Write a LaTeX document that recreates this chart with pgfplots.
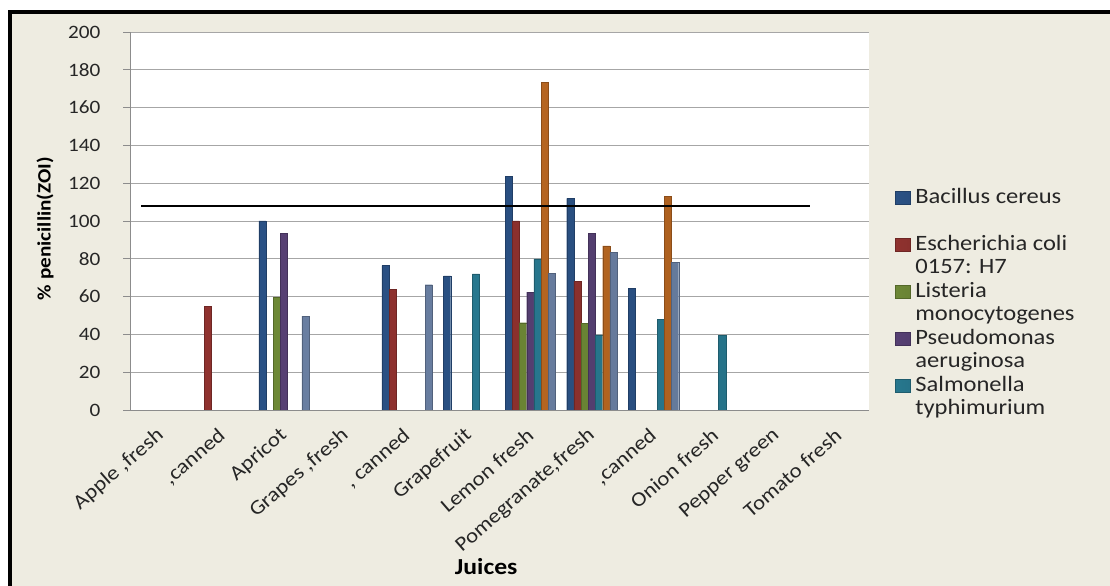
\documentclass[border=0pt]{standalone}
\usepackage{pgfplots}
\pgfplotsset{compat=1.18}
\usepackage{fontspec}
\setmainfont{Carlito}[FakeStretch=1.12]
\definecolor{bgbeige}{HTML}{EEECE1}
\definecolor{gridgray}{HTML}{A6A6A6}
\definecolor{axisgray}{HTML}{8C8C8C}
\definecolor{cBlue}{HTML}{3668AA}
\definecolor{cRed}{HTML}{B8403C}
\definecolor{cGreen}{HTML}{8CAE45}
\definecolor{cPurple}{HTML}{6F5294}
\definecolor{cTeal}{HTML}{3299B6}
\definecolor{cOrange}{HTML}{E8812A}
\definecolor{cLight}{HTML}{87A2CF}
\tikzset{barshade/.style={left color=#1!78!black, middle color=#1, right color=#1!75!black, draw=#1!60!black, line width=0.3bp}}
\begin{document}
\begin{tikzpicture}
\useasboundingbox (0,0) rectangle (1110bp,586bp);
\fill[bgbeige] (0,0) rectangle (1110bp,586bp);
\fill[white] (0,574bp) rectangle (1110bp,586bp);
\fill[white] (0,0) rectangle (8bp,586bp);
\fill[black] (8bp,572bp) rectangle (1110bp,576bp);
\fill[black] (8bp,0) rectangle (12bp,576bp);
\begin{axis}[
  at={(130bp,176bp)}, anchor=south west,
  scale only axis, width=739bp, height=378bp,
  ybar=0pt, bar width=7.2bp,
  xmin=-0.5, xmax=11.5, ymin=0, ymax=200,
  xtick={0,...,11},
  xticklabels={{Apple ,fresh},{,canned},{Apricot},{Grapes ,fresh},{, canned},{Grapefruit},{Lemon fresh},{Pomegranate,fresh},{,canned},{Onion fresh},{Pepper green},{Tomato fresh}},
  ytick={0,20,...,200},
  axis x line*=bottom, axis y line*=left,
  axis background/.style={fill=white},
  ymajorgrids, grid style={draw=gridgray, line width=0.8bp},
  axis line style={draw=axisgray, line width=0.8bp},
  x tick style={draw=none},
  y tick style={draw=axisgray, line width=0.8bp},
  tick align=outside, major tick length=7bp,
  /pgf/number format/assume math mode=true,
  yticklabel style={font=\fontsize{19}{21}\selectfont, color=black!85, xshift=-19bp},
  xticklabel style={font=\fontsize{20.5}{22}\selectfont, color=black!85, xshift=1bp, yshift=-15bp, rotate=41, anchor=east, inner sep=1bp},
  ylabel={\% penicillin(ZOI)},
  ylabel style={font=\bfseries\fontsize{19}{21}\selectfont, at={(axis description cs:-0.115,0.48)}, anchor=center},
  xlabel={Juices},
  xlabel style={font=\bfseries\fontsize{23}{25}\selectfont, at={(axis description cs:0.482,-0.413)}, anchor=center},
  legend entries={Bacillus cereus, {\phantom{X}}, Escherichia coli, {0157: H7}, Listeria, monocytogenes, Pseudomonas, aeruginosa, Salmonella, typhimurium},
  legend cell align=left,
  legend image code/.code={\fill[#1] (0bp,-6.5bp) rectangle (15bp,6.5bp);},
  legend style={at={(axis description cs:1.035,0.587)}, anchor=north west, draw=none, fill=none, inner sep=0pt,
    font=\fontsize{22}{24}\selectfont, row sep=4.5bp,
    nodes={inner sep=0pt, text height=15bp, text depth=4bp, text=black!85},
    /tikz/every odd column/.append style={column sep=5bp}},
]
\addplot[barshade=cBlue] coordinates {(2,100) (4,76.4) (5,71) (6,123.5) (7,112) (8,64.5)};
\addlegendimage{empty legend}
\addplot[barshade=cRed] coordinates {(1,54.7) (4,63.8) (6,100) (7,68)};
\addlegendimage{empty legend}
\addplot[barshade=cGreen] coordinates {(2,59.5) (6,46.2) (7,46)};
\addlegendimage{empty legend}
\addplot[barshade=cPurple] coordinates {(2,93.5) (6,62.4) (7,93.5)};
\addlegendimage{empty legend}
\addplot[barshade=cTeal] coordinates {(5,72) (6,80) (7,39.7) (8,48) (9,39.5)};
\addlegendimage{empty legend}
\addplot[barshade=cOrange] coordinates {(6,173.2) (7,86.8) (8,113.2)};
\addplot[barshade=cLight] coordinates {(2,49.7) (4,66.3) (6,72.3) (7,83.4) (8,78.1)};
\addplot[sharp plot, black, line width=1.6bp, forget plot] coordinates {(-0.32,108) (10.54,108)};
\end{axis}
\end{tikzpicture}
\end{document}
